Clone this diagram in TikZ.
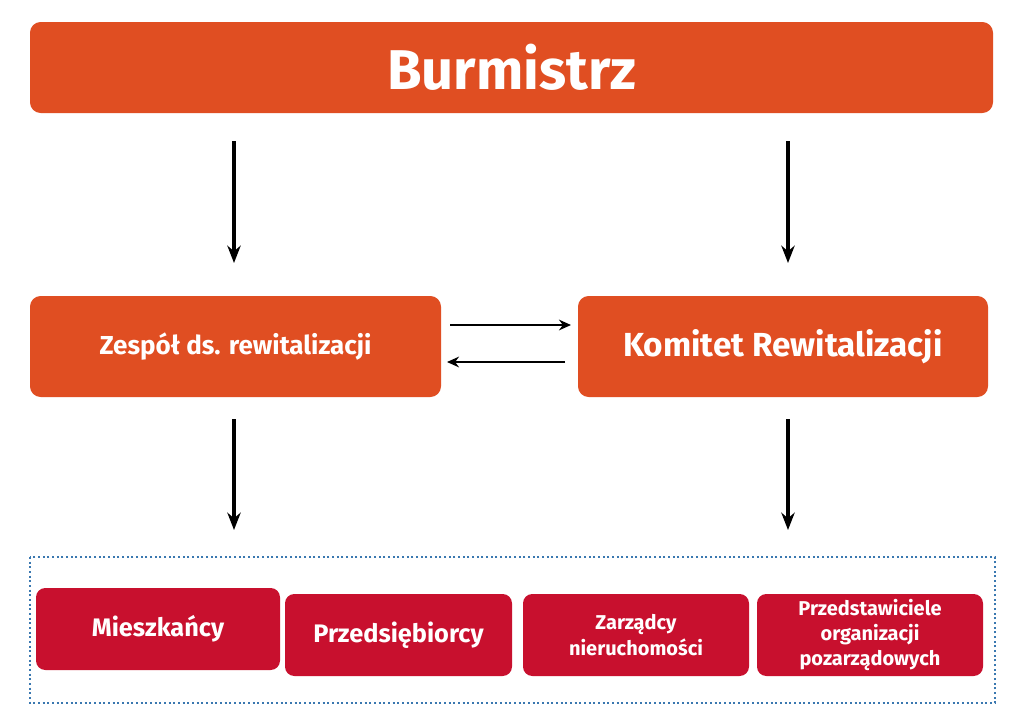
\documentclass[tikz,border=0pt]{standalone}
\usepackage{fontspec}
\usetikzlibrary{arrows.meta}
\setmainfont{Fira Sans}
\begin{document}
\definecolor{org}{HTML}{E04E22}
\definecolor{rd}{HTML}{C8102E}
\definecolor{dotb}{HTML}{3A78B0}
\begin{tikzpicture}[x=0.75pt,y=-0.75pt,
 obox/.style={fill=org,rounded corners=8pt,text=white,font=\bfseries},
 rbox/.style={fill=rd,rounded corners=7pt,text=white,font=\bfseries,align=center},
 big/.style={-{Stealth[length=13pt,width=10pt]},line width=3pt},
 thin/.style={-{Stealth[length=9pt,width=8pt]},line width=1.8pt}]
\useasboundingbox (0,0) rectangle (1024,725);
\fill[white] (0,0) rectangle (1024,725);
\node[obox,minimum width=963*0.75pt,minimum height=91*0.75pt,font=\bfseries\fontsize{42}{46}\selectfont] (b) at (511.5,67.5) {Burmistrz};
\node[obox,minimum width=411*0.75pt,minimum height=101*0.75pt,font=\bfseries\fontsize{19.5}{22}\selectfont] (z) at (235.5,346.5) {Zespół ds. rewitalizacji};
\node[obox,minimum width=410*0.75pt,minimum height=101*0.75pt,font=\bfseries\fontsize{25}{28}\selectfont] (k) at (783,346.5) {Komitet Rewitalizacji};
\coordinate (a1s) at (234,141); \coordinate (a1e) at (234,263);
\coordinate (a2s) at (788,141); \coordinate (a2e) at (788,263);
\coordinate (a3s) at (234,419); \coordinate (a3e) at (234,530);
\coordinate (a4s) at (788,419); \coordinate (a4e) at (788,530);
\draw[big] (a1s) -- (a1e);
\draw[big] (a2s) -- (a2e);
\draw[big] (a3s) -- (a3e);
\draw[big] (a4s) -- (a4e);
\coordinate (h1s) at (450,325); \coordinate (h1e) at (571,325);
\coordinate (h2s) at (565,362); \coordinate (h2e) at (447,362);
\draw[thin] (h1s) -- (h1e);
\draw[thin] (h2s) -- (h2e);
\draw[dotb,line width=1.5pt,dotted] (30,557) rectangle (995,703);
\node[rbox,minimum width=244*0.75pt,minimum height=82*0.75pt,font=\bfseries\fontsize{19}{22}\selectfont] (m) at (158,629) {Mieszkańcy};
\node[rbox,minimum width=227*0.75pt,minimum height=82*0.75pt,font=\bfseries\fontsize{19}{22}\selectfont] (p) at (398.5,635) {Przedsiębiorcy};
\node[rbox,minimum width=226*0.75pt,minimum height=82*0.75pt,font=\bfseries\fontsize{15}{19}\selectfont] (zr) at (636,635) {Zarządcy\\nieruchomości};
\node[rbox,minimum width=226*0.75pt,minimum height=82*0.75pt,font=\bfseries\fontsize{15}{19}\selectfont] (pr) at (870,635) {Przedstawiciele\\organizacji\\pozarządowych};
\end{tikzpicture}
\end{document}
